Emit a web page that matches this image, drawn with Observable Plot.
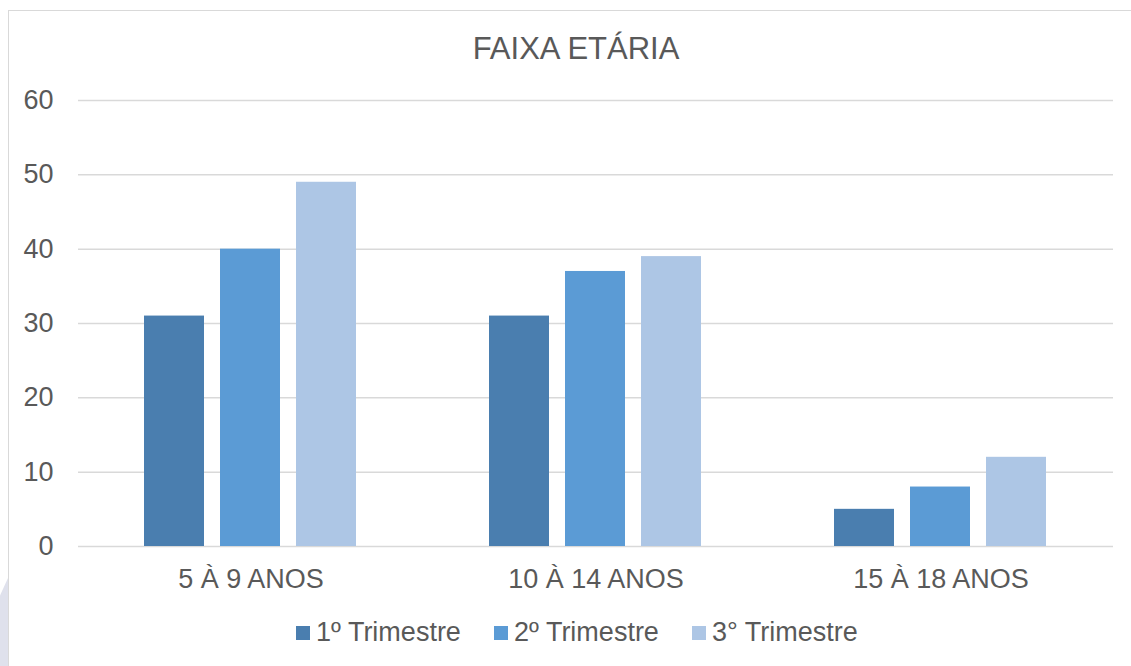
<!DOCTYPE html>
<html>
<head>
<meta charset="utf-8">
<script src="https://cdn.jsdelivr.net/npm/d3@7"></script>
<script src="https://cdn.jsdelivr.net/npm/@observablehq/plot@0.6"></script>
<style>
  html, body { margin: 0; padding: 0; background: #fff; overflow: hidden; }
  body { width: 1131px; height: 666px; position: relative; font-family: "Liberation Sans", Arial, sans-serif; color: #595959; }
  #frame { position: absolute; left: 8px; top: 10px; width: 1160px; height: 720px; border: 1px solid #d9d9d9; box-sizing: border-box; }
  #deco { position: absolute; left: 0; top: 578px; width: 8px; height: 88px; background: #dfe1ec; clip-path: polygon(0 20%, 100% 0, 100% 100%, 0 100%); }
  #title { position: absolute; left: 0; top: 32.7px; width: 1152px; text-align: center; font-size: 31px; line-height: 31px; }
  #chart { position: absolute; left: 0; top: 80px; }
  #legend { position: absolute; left: 296px; top: 619px; display: flex; align-items: center; font-size: 27px; line-height: 27px; white-space: nowrap; }
  .item { display: flex; align-items: center; width: 198px; }
  .sw { width: 14px; height: 14px; margin-right: 6px; display: inline-block; }
</style>
</head>
<body>
<div id="frame"></div>
<div id="deco"></div>
<div id="title">FAIXA ETÁRIA</div>
<div id="chart"></div>
<div id="legend"></div>
<script>
const categories = ["5 À 9 ANOS", "10 À 14 ANOS", "15 À 18 ANOS"];
const seriesNames = ["1º Trimestre", "2º Trimestre", "3° Trimestre"];
const trimestre1 = [31, 31, 5];
const trimestre2 = [40, 37, 8];
const trimestre3 = [49, 39, 12];
const yTicks = [0, 10, 20, 30, 40, 50, 60];
const colors = ["#4a7eaf", "#5b9bd5", "#adc6e5"];

const seriesValues = [trimestre1, trimestre2, trimestre3];
const data = [];
categories.forEach((c, i) => {
  seriesNames.forEach((s, j) => {
    data.push({group: c, series: s, value: seriesValues[j][i]});
  });
});

const chart = Plot.plot({
  width: 1131,
  height: 520,
  marginLeft: 78,
  marginRight: 18,
  marginTop: 20,
  marginBottom: 54,
  style: {fontFamily: "'Liberation Sans', Arial, sans-serif", fontSize: "27px", color: "#595959", background: "transparent", overflow: "visible"},
  fx: {domain: categories, padding: 0, label: null},
  x: {domain: seriesNames, paddingInner: 0.2105, paddingOuter: 0.873, axis: null},
  y: {domain: [0, 60], label: null},
  color: {domain: seriesNames, range: colors},
  marks: [
    Plot.gridY(yTicks, {stroke: "#d9d9d9", strokeOpacity: 1, strokeWidth: 1.5}),
    Plot.barY(data, {fx: "group", x: "series", y: "value", fill: "series"}),
    Plot.axisY(yTicks, {tickSize: 0, tickPadding: 25, label: null, fill: "#595959"}),
    Plot.axisFx({anchor: "bottom", tickSize: 0, tickPadding: 22, label: null, fill: "#595959"})
  ]
});
document.getElementById("chart").appendChild(chart);

const legend = document.getElementById("legend");
seriesNames.forEach((s, i) => {
  const item = document.createElement("div");
  item.className = "item";
  const sw = document.createElement("span");
  sw.className = "sw";
  sw.style.background = colors[i];
  const t = document.createElement("span");
  t.textContent = s;
  item.appendChild(sw);
  item.appendChild(t);
  legend.appendChild(item);
});
</script>
</body>
</html>
